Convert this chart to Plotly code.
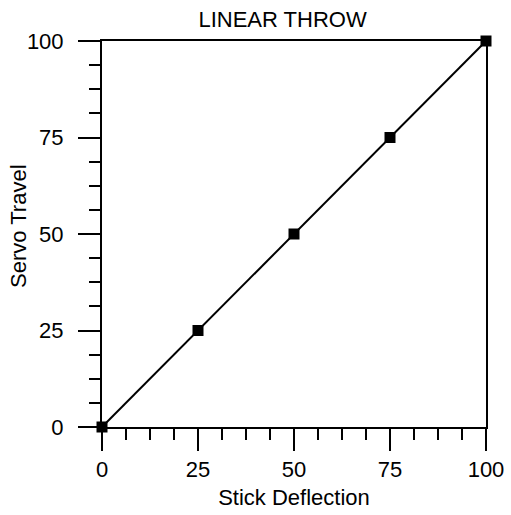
import plotly.graph_objects as go

# Stick deflection (%) vs. servo travel (%) for a linear throw curve
stick_deflection = [0, 25, 50, 75, 100]
servo_travel = [0, 25, 50, 75, 100]
tick_values = [0, 25, 50, 75, 100]
tick_labels = ["0", "25", "50", "75", "100"]

FONT = "Liberation Sans, Arial, Helvetica, sans-serif"

fig = go.Figure(
    go.Scatter(
        x=stick_deflection,
        y=servo_travel,
        mode="lines+markers",
        line=dict(color="black", width=2),
        marker=dict(symbol="square", size=11, color="black"),
        cliponaxis=False,
        showlegend=False,
    )
)

axis_common = dict(
    range=[0, 100],
    automargin=False,
    tickmode="array",
    tickvals=tick_values,
    ticktext=tick_labels,
    ticks="outside",
    ticklen=22,
    tickwidth=2,
    tickcolor="black",
    showline=True,
    linecolor="black",
    linewidth=2,
    mirror=True,
    showgrid=False,
    zeroline=False,
    tickfont=dict(family=FONT, size=22, color="black"),
    minor=dict(dtick=6.25, ticks="outside", ticklen=11, tickwidth=2,
               tickcolor="black", showgrid=False),
)

fig.update_xaxes(
    **axis_common,
    title=dict(text="Stick Deflection", font=dict(family=FONT, size=22, color="black"),
               standoff=8),
)
fig.update_yaxes(**axis_common, ticklabelstandoff=10)

# Vertical axis title placed as a rotated annotation beside the tick labels
fig.add_annotation(
    text="Servo Travel",
    xref="paper", yref="paper",
    x=-0.216, y=0.521,
    xanchor="center", yanchor="middle",
    textangle=-90,
    showarrow=False,
    font=dict(family=FONT, size=22, color="black"),
)

fig.update_layout(
    width=511,
    height=515,
    margin=dict(l=102, r=25, t=41, b=88),
    paper_bgcolor="white",
    plot_bgcolor="white",
    title=dict(text="LINEAR THROW", x=0.553, xanchor="center", y=0.963, yanchor="middle",
               font=dict(family=FONT, size=22, color="black")),
)

fig.write_html("out.html")
